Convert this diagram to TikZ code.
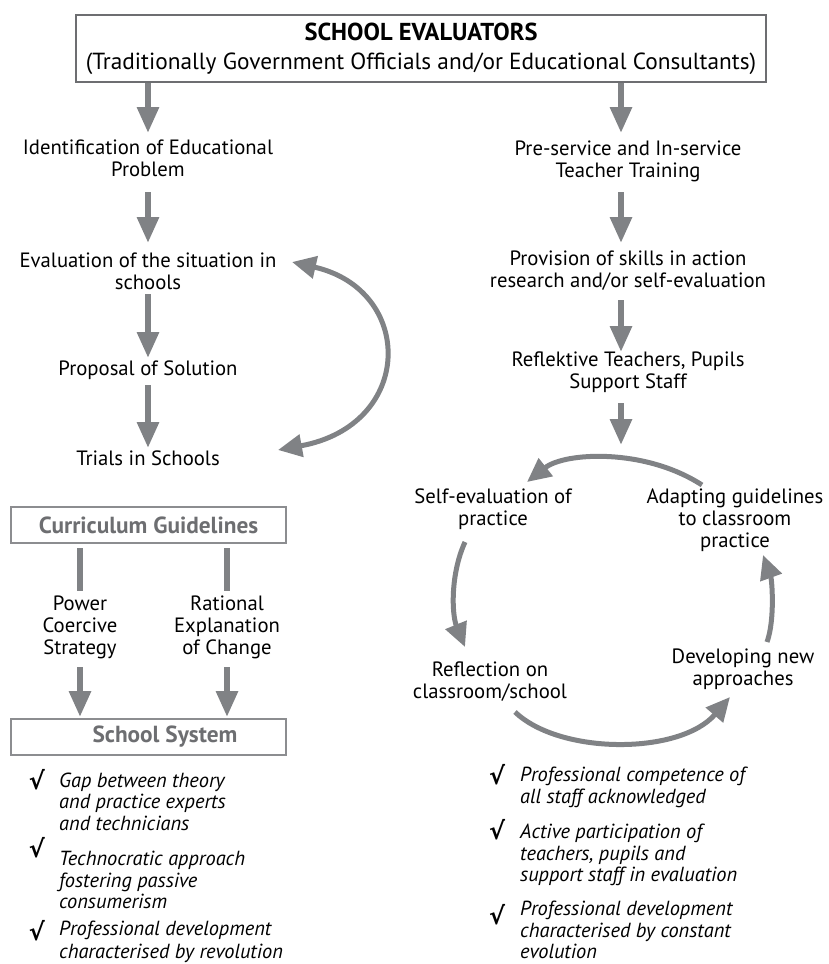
\documentclass[tikz,border=0pt]{standalone}
\usepackage{fontspec}
\setmainfont{PT Sans}
\newfontfamily\chkfont{DejaVu Sans}
\usetikzlibrary{arrows.meta,calc}
\definecolor{arrowgray}{HTML}{808285}
\definecolor{boxgray}{HTML}{6D6E71}
\definecolor{lightbox}{HTML}{8C8D90}
\begin{document}
\begin{tikzpicture}[x=1pt,y=-1pt,
  txt/.style={align=center, inner sep=0pt, font=\fontsize{20.7}{22}\selectfont},
  itxt/.style={align=left, anchor=west, inner sep=0pt, font=\fontsize{20.4}{21.5}\selectfont\itshape},
  chk/.style={inner sep=0pt, font=\chkfont\bfseries\fontsize{24}{24}\selectfont},
  arr/.style={draw=arrowgray, line width=6pt, -{Triangle[width=21pt,length=26pt]}},
  bar/.style={draw=arrowgray, line width=6pt},
  carr/.style={draw=arrowgray, line width=5pt, -{Triangle[width=22pt,length=24pt]}},
  dcarr/.style={draw=arrowgray, line width=5pt, {Triangle[width=22pt,length=24pt]}-{Triangle[width=22pt,length=24pt]}},
  graybox/.style={draw=lightbox, line width=2pt, minimum width=275pt, minimum height=36pt, inner sep=0pt, text=boxgray, font=\bfseries\fontsize{23.3}{26}\selectfont}
]
\useasboundingbox (0,0) rectangle (828,964);

% top box
\node[draw=boxgray, line width=2pt, minimum width=690pt, minimum height=67pt, inner sep=0pt, align=center,
      font=\fontsize{23.3}{29}\selectfont] (top) at (421,48.5)
  {{\fontsize{24.5}{29}\selectfont\bfseries SCHOOL EVALUATORS}\\(Traditionally Government Officials and/or Educational Consultants)};

% left column
\node[txt] (ident) at (148,158.5) {Identification of Educational\\Problem};
\node[txt] (eval) at (148,271) {Evaluation of the situation in\\schools};
\node[txt] (prop) at (148,370) {Proposal of Solution};
\node[txt] (trials) at (148,458) {Trials in Schools};

\draw[arr] (top.south -| ident) -- ($(ident)+(0,-25.5)$);
\draw[arr] ($(ident)+(0,33.5)$) -- ($(eval)+(0,-28)$);
\draw[arr] ($(eval)+(0,23)$) -- ($(prop)+(0,-12)$);
\draw[arr] ($(prop)+(0,15)$) -- ($(trials)+(0,-10)$);

\draw[dcarr] ($(eval)+(144,-9)$) .. controls (415,290) and (415,425) .. ($(trials)+(130,-8)$);

% curriculum guidelines
\node[graybox] (cg) at (148.5,525) {Curriculum Guidelines};
\node[txt] (pcs) at (80,627) {Power\\Coercive\\Strategy};
\node[txt] (rec) at (227,627) {Rational\\Explanation\\of Change};
\node[graybox] (ss) at (148.5,737) {\hspace*{33pt}School System};

\draw[bar] ($(cg.south -| pcs)+(0,4)$) -- ($(pcs)+(0,-36)$);
\draw[bar] ($(cg.south -| rec)+(0,4)$) -- ($(rec)+(0,-36)$);
\draw[arr] ($(pcs)+(0,40)$) -- ($(ss.north -| pcs)+(0,-1)$);
\draw[arr] ($(rec)+(0,40)$) -- ($(ss.north -| rec)+(0,-1)$);

% left checks
\node[chk] (c1) at (37,780) {√};
\node[itxt] (g1) at (59,801.5) {Gap between theory\\and practice experts\\and technicians};
\node[chk] (c2) at (37,848) {√};
\node[itxt] (g2) at (59,880) {Technocratic approach\\fostering passive\\consumerism};
\node[chk] (c3) at (37,931) {√};
\node[itxt, font=\fontsize{20.4}{23}\selectfont\itshape] (g3) at (59,942) {Professional development\\characterised by revolution};

% right column
\node[txt] (pre) at (628,161.5) {Pre-service and In-service\\Teacher Training};
\node[txt] (prov) at (628,271) {Provision of skills in action\\research and/or self-evaluation};
\node[txt] (refl) at (628,372.5) {Reflektive Teachers, Pupils\\Support Staff};
\coordinate (cyctop) at (621,445);

\draw[arr] ($(top.south -| pre)+(-7,0)$) -- ($(pre)+(-7,-28.5)$);
\draw[arr] ($(pre)+(-7,30.5)$) -- ($(prov)+(-7,-28)$);
\draw[arr] ($(prov)+(-7,29)$) -- ($(refl)+(-7,-20.5)$);
\draw[arr] ($(refl)+(-7,30.5)$) -- (cyctop);

% cycle
\node[txt] (selfev) at (493,509) {Self-evaluation of\\practice};
\node[txt] (adapt) at (735,520) {Adapting guidelines\\to classroom\\practice};
\node[txt] (reflect) at (490,682) {Reflection on\\classroom/school};
\node[txt] (develop) at (743,669) {Developing new\\approaches};

\draw[carr] ($(adapt)+(-33,-35)$) .. controls (645,448) and (565,452) .. ($(selfev)+(34,-27)$);
\draw[carr] ($(selfev)+(-28,33)$) .. controls (450,575) and (452,615) .. ($(reflect)+(-25,-35)$);
\draw[carr] ($(reflect)+(25,30)$) .. controls (560,755) and (680,755) .. ($(develop)+(-13,28)$);
\draw[carr] ($(develop)+(24,-27)$) .. controls (775,620) and (772,580) .. ($(adapt)+(28,35)$);

% right checks
\node[chk] (c4) at (497,775) {√};
\node[itxt] (r1) at (520,787.5) {Professional competence of\\all staff acknowledged};
\node[chk] (c5) at (497,830) {√};
\node[itxt] (r2) at (520,855) {Active participation of\\teachers, pupils and\\support staff in evaluation};
\node[chk] (c6) at (497,915) {√};
\node[itxt] (r3) at (520,930) {Professional development\\characterised by constant\\evolution};
\end{tikzpicture}
\end{document}
